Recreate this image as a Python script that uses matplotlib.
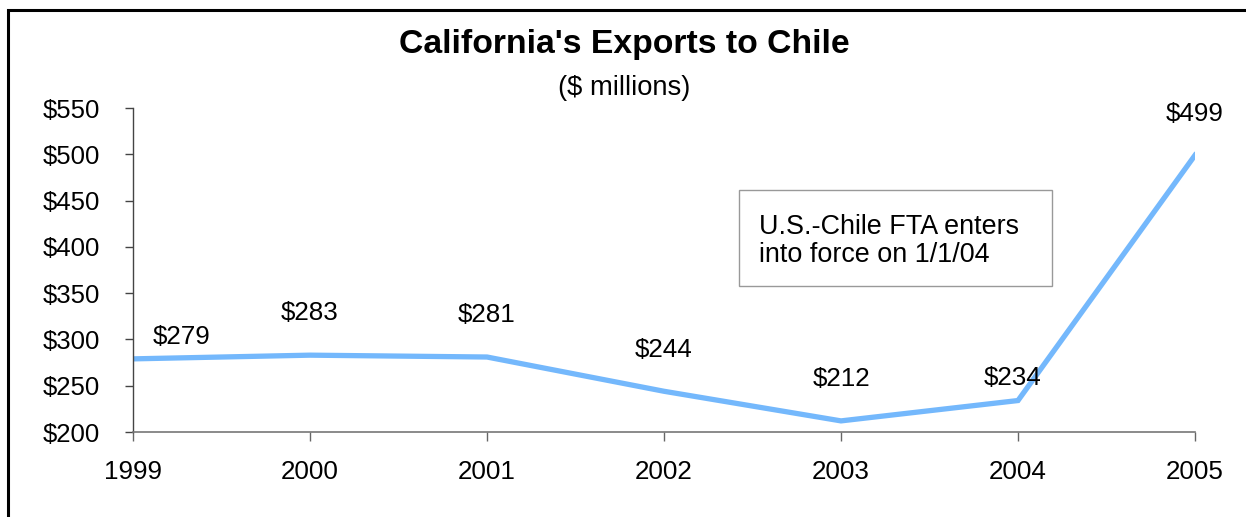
import matplotlib.pyplot as plt
from matplotlib.patches import Rectangle

years = [1999, 2000, 2001, 2002, 2003, 2004, 2005]
exports = [279, 283, 281, 244, 212, 234, 499]
labels = ['$279', '$283', '$281', '$244', '$212', '$234', '$499']
# label offsets in points (Excel placed them a bit irregularly)
label_dx = [35, 0, 0, 0, 0, -4, 0]
label_dy = [16, 30, 30, 30, 30, 16, 30]

yticks = [200, 250, 300, 350, 400, 450, 500, 550]

plt.rcParams['font.family'] = ['Liberation Sans', 'DejaVu Sans']

fig = plt.figure(figsize=(12.46, 5.17), dpi=100)
ax = fig.add_axes([133/1246, 1 - 432/517, (1195 - 133)/1246, (432 - 108)/517])

ax.plot(years, exports, color='#74B8FC', linewidth=3.8, solid_joinstyle='miter')

for x, y, t, dx, dy in zip(years, exports, labels, label_dx, label_dy):
    ax.annotate(t, xy=(x, y), xytext=(dx, dy), textcoords='offset points',
                ha='center', va='center', fontsize=18.7, annotation_clip=False)

ax.set_xlim(1999, 2005)
ax.set_ylim(200, 550)
ax.set_xticks(years)
ax.set_xticklabels([str(y) for y in years])
ax.set_yticks(yticks)
ax.set_yticklabels(['$%d' % v for v in yticks])
ax.tick_params(axis='y', direction='out', length=6, width=1, color='#444444',
               labelsize=18.5, pad=18)
ax.tick_params(axis='x', direction='out', length=6.5, width=1, color='#666666',
               labelsize=18.7, pad=14)

for s in ['top', 'right']:
    ax.spines[s].set_visible(False)
ax.spines['left'].set_color('#444444')
ax.spines['bottom'].set_color('#777777')
ax.spines['left'].set_linewidth(1)
ax.spines['bottom'].set_linewidth(1.2)

ax.text(759/1246, 1 - 241/517, 'U.S.-Chile FTA enters\ninto force on 1/1/04',
        transform=fig.transFigure, fontsize=19.4, ha='left', va='center',
        linespacing=1.12)
fig.patches.append(Rectangle((739/1246, 1 - 286/517), (1052 - 739)/1246, (286 - 190)/517,
                             transform=fig.transFigure, fill=False,
                             edgecolor='#999999', linewidth=1))

fig.text(0.5 + 1/1246, 1 - 45/517, "California's Exports to Chile", ha='center', va='center',
         fontsize=24.3, fontweight='bold')
fig.text(0.5 + 1/1246, 1 - 88/517, '($ millions)', ha='center', va='center', fontsize=19.7)

# outer chart frame, cut off at right and bottom
fig.patches.append(Rectangle((8/1246, -0.2), 1.5, 1.2 - 9.5/517, transform=fig.transFigure,
                             fill=False, edgecolor='black', linewidth=2.2))

fig.savefig('out.png', dpi=100)
